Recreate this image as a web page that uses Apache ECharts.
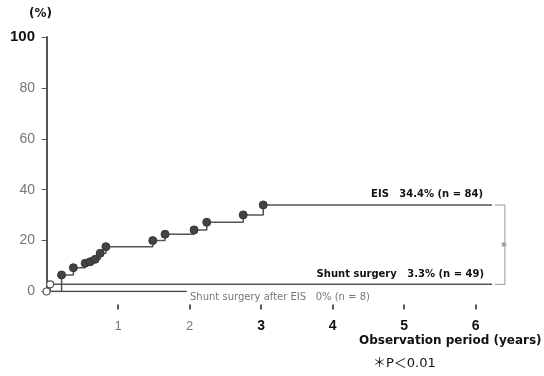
<!DOCTYPE html>
<html><head><meta charset="utf-8">
<script src="https://cdn.jsdelivr.net/npm/echarts@6/dist/echarts.min.js"></script>
<style>html,body{margin:0;padding:0;background:#fff}#c{width:544px;height:376px}</style>
</head><body><div id="c"></div>
<script>
// Data
const xTicks = [1, 2, 3, 4, 5, 6];
const yTicks = [0, 20, 40, 60, 80, 100];
const eisT = [0, 0.21, 0.375, 0.54, 0.61, 0.68, 0.75, 0.83, 1.485, 1.657, 2.063, 2.24, 2.75, 3.03, 6.23];
const eisY = [0, 6.5, 9.35, 11.1, 11.7, 12.65, 15.0, 17.6, 20.0, 22.5, 24.2, 27.2, 30.1, 34.0, 34.0];
const shuntT = [0, 0.05, 6.23];
const shuntY = [0, 2.8, 2.8];
const afterT = [0, 1.96];
const afterY = [0, 0];
const bracketT = [6.27, 6.41, 6.41, 6.27];
const bracketY = [34.0, 34.0, 2.8, 2.8];

const FONT = '"Liberation Sans Narrow","Liberation Sans","Noto Sans CJK JP",sans-serif';
const DJ = '"DejaVu Sans","Noto Sans CJK JP",sans-serif';
const chart = echarts.init(document.getElementById('c'));

const eisData = eisT.map((t, i) => ({
  value: [t, eisY[i]],
  symbol: (i === 0 || i === eisT.length - 1) ? 'none' : 'circle'
}));
const shuntData = shuntT.map((t, i) => ({
  value: [t, shuntY[i]],
  symbol: (i === shuntT.length - 1) ? 'none' : 'circle'
}));

const GL = 43, GW = 475.5;
chart.setOption({
  animation: false,
  backgroundColor: '#fff',
  grid: [
    { left: GL, top: 37, width: GW, height: 254.5, containLabel: false },
    { left: GL, top: 303.5, width: GW, height: 1, containLabel: false }
  ],
  xAxis: [
    { type: 'value', gridIndex: 0, min: -0.05, max: 6.6, show: false },
    {
      type: 'value', gridIndex: 1, min: -0.05, max: 6.6,
      axisLine: { show: false },
      splitLine: { show: false },
      axisTick: { show: true, customValues: xTicks, length: 5, inside: false,
        lineStyle: { color: '#222', width: 1.5 } },
      axisLabel: { customValues: xTicks, margin: 15,
        formatter: v => (v <= 2 ? '{g|' + v + '}' : '{b|' + v + '}'),
        rich: {
          g: { color: '#777', fontSize: 13, fontFamily: FONT },
          b: { color: '#111', fontSize: 14, fontWeight: 'bold', fontFamily: FONT }
        }
      }
    }
  ],
  yAxis: [
    {
      type: 'value', gridIndex: 0, min: 0, max: 100, interval: 20,
      axisLine: { show: true, lineStyle: { color: '#555', width: 2 } },
      splitLine: { show: false },
      axisTick: { show: true, length: 5, lineStyle: { color: '#555', width: 1 } },
      axisLabel: { margin: 8,
        formatter: v => (v === 100 ? '{b|100}' : '{g|' + v + '}'),
        rich: {
          g: { color: '#777', fontSize: 14, fontFamily: FONT },
          b: { color: '#111', fontSize: 15, fontWeight: 'bold', fontFamily: FONT }
        }
      }
    },
    { type: 'value', gridIndex: 1, min: 0, max: 1, show: false }
  ],
  series: [
    {
      type: 'line', data: eisData, step: 'end',
      symbolSize: 8, showSymbol: true,
      lineStyle: { color: '#555', width: 1.5 },
      itemStyle: { color: '#444', borderColor: '#333', borderWidth: 1 },
      z: 3
    },
    {
      type: 'line', data: shuntData, step: 'end',
      symbol: 'circle', symbolSize: 7,
      lineStyle: { color: '#555', width: 1.5 },
      itemStyle: { color: '#fff', borderColor: '#555', borderWidth: 1.2 },
      z: 4
    },
    {
      type: 'line', data: afterT.map((t, i) => [t, afterY[i]]),
      symbol: 'none',
      lineStyle: { color: '#444', width: 1.5 },
      z: 2
    },
    {
      type: 'line', data: bracketT.map((t, i) => [t, bracketY[i]]),
      symbol: 'none',
      lineStyle: { color: '#999', width: 1 },
      z: 1
    }
  ],
  graphic: [
    { type: 'text', left: 29, top: 8, style: { text: '(%)', font: 'bold 12px ' + DJ, fill: '#111' } },
    { type: 'text', right: 61, top: 189, style: { text: 'EIS   34.4% (n = 84)', font: 'bold 10px ' + DJ, fill: '#111' } },
    { type: 'text', right: 60, top: 269, style: { text: 'Shunt surgery   3.3% (n = 49)', font: 'bold 10px ' + DJ, fill: '#111' } },
    { type: 'text', left: 190, top: 292, style: { text: 'Shunt surgery after EIS   0% (n = 8)', font: '10px ' + DJ, fill: '#777' } },
    { type: 'text', left: 501, top: 242, style: { text: '*', font: 'bold 11px ' + DJ, fill: '#888' } },
    { type: 'text', left: 359, top: 335, style: { text: 'Observation period (years)', font: 'bold 12px ' + DJ, fill: '#111' } },
    { type: 'text', left: 373, top: 357, style: { text: '＊P＜0.01', font: '13px ' + DJ, fill: '#111' } }
  ]
});
</script></body></html>
